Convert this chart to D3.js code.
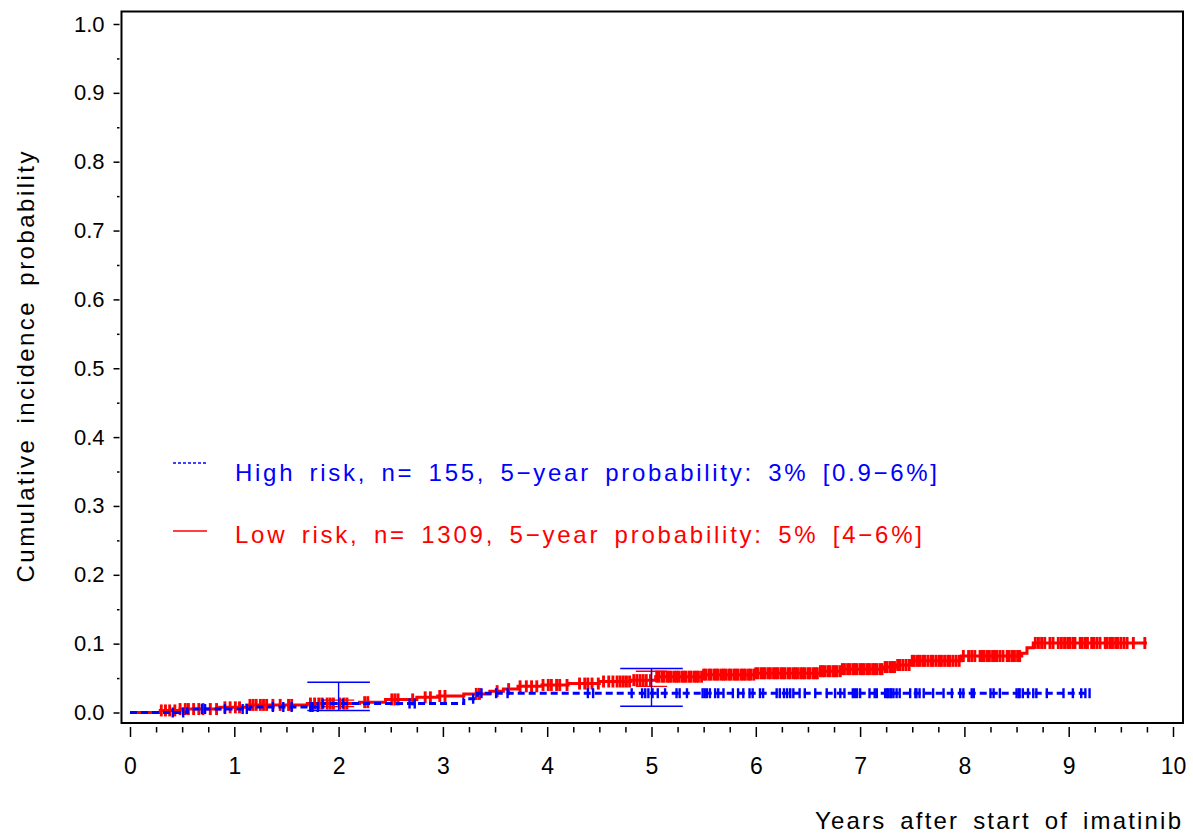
<!DOCTYPE html>
<html>
<head>
<meta charset="utf-8">
<script src="https://cdn.jsdelivr.net/npm/d3@7"></script>
<style>
  body { margin: 0; background: #fff; }
  svg { display: block; font-family: "Liberation Sans", Arial, Helvetica, sans-serif; }
</style>
</head>
<body>
<div id="chart"></div>
<script>
// --- Data ---------------------------------------------------------------
const yearTicks = [0, 1, 2, 3, 4, 5, 6, 7, 8, 9, 10];
const probTicks = [0, 0.1, 0.2, 0.3, 0.4, 0.5, 0.6, 0.7, 0.8, 0.9, 1.0];

// cumulative incidence steps: [years, probability]
const highRiskSteps = [[0, 0], [0.55, 0.005], [1.15, 0.008], [1.85, 0.013], [3.2, 0.020], [3.33, 0.028]];
const highRiskEnd = 9.2;
const lowRiskSteps = [[0, 0], [0.29, 0.003], [0.48, 0.005], [0.86, 0.0075], [1.12, 0.011], [1.7, 0.013],
  [2.2, 0.015], [2.45, 0.019], [2.75, 0.022], [2.95, 0.024], [3.2, 0.027], [3.45, 0.031], [3.58, 0.034],
  [3.72, 0.038], [3.95, 0.040], [4.2, 0.042], [4.5, 0.045], [4.8, 0.047], [5.04, 0.052], [5.5, 0.055],
  [6.0, 0.057], [6.62, 0.060], [6.82, 0.063], [7.22, 0.066], [7.35, 0.069], [7.49, 0.075], [7.97, 0.082],
  [8.55, 0.086], [8.60, 0.094], [8.66, 0.101]];
const lowRiskEnd = 9.75;

// censoring times (years)
const highRiskCensor = [0.41, 0.51, 0.69, 0.72, 0.91, 1.08, 1.12, 1.37, 1.47, 1.55, 1.73, 1.75, 1.80, 1.85,
  2.04, 2.68, 2.73, 3.29, 3.37, 3.51, 3.62, 4.39, 4.44, 4.81, 4.91, 4.94, 4.97, 5.01, 5.06, 5.13, 5.24,
  5.27, 5.34, 5.49, 5.51, 5.53, 5.56, 5.61, 5.64, 5.69, 5.78, 5.83, 5.88, 5.94, 5.97, 6.04, 6.07, 6.20,
  6.23, 6.27, 6.30, 6.33, 6.36, 6.42, 6.47, 6.57, 6.68, 6.76, 6.81, 6.85, 6.93, 6.95, 6.97, 7.00, 7.09,
  7.14, 7.16, 7.24, 7.26, 7.27, 7.29, 7.30, 7.32, 7.35, 7.38, 7.48, 7.53, 7.54, 7.57, 7.61, 7.70, 7.80,
  7.88, 7.96, 7.99, 8.07, 8.09, 8.25, 8.28, 8.34, 8.50, 8.52, 8.53, 8.56, 8.61, 8.66, 8.69, 8.79, 8.95,
  9.04, 9.12, 9.16, 9.20];

const lowRiskCensor = [0.30, 0.34, 0.38, 0.43, 0.48, 0.53, 0.56, 0.61, 0.66, 0.70, 0.77, 0.83, 0.91, 0.96,
  1.01, 1.05, 1.15, 1.18, 1.21, 1.25, 1.28, 1.31, 1.37, 1.44, 1.52, 1.55, 1.73, 1.77, 1.81, 1.84, 1.89,
  1.92, 1.95, 2.01, 2.05, 2.08, 2.25, 2.28, 2.51, 2.54, 2.57, 2.71, 2.83, 2.88, 2.97, 3.02, 3.32, 3.35,
  3.52, 3.63, 3.74, 3.80, 3.85, 3.90, 3.96, 4.01, 4.04, 4.09, 4.12, 4.19, 4.31, 4.36, 4.39, 4.43, 4.49,
  4.54, 4.59, 4.63, 4.67, 4.70, 4.73, 4.76, 4.79, 4.83, 4.86, 4.89, 4.92, 4.95, 4.99,
  5.05, 5.07, 5.10, 5.12, 5.15, 5.17, 5.19, 5.22, 5.24, 5.26, 5.29, 5.31, 5.33, 5.36, 5.38, 5.41, 5.43,
  5.45, 5.48, 5.50, 5.52, 5.55, 5.57, 5.60, 5.62, 5.64, 5.67, 5.69, 5.71, 5.74, 5.76, 5.79, 5.81, 5.83,
  5.86, 5.88, 5.90, 5.93, 5.95, 5.98, 6.00, 6.02, 6.05, 6.07, 6.09, 6.12, 6.14, 6.17, 6.19, 6.21, 6.24,
  6.26, 6.28, 6.31, 6.33, 6.36, 6.38, 6.40, 6.43, 6.45, 6.47, 6.50, 6.52, 6.55, 6.57, 6.59, 6.62, 6.64,
  6.66, 6.69, 6.71, 6.74, 6.76, 6.78, 6.81, 6.83, 6.85, 6.88, 6.90, 6.93, 6.95, 6.97, 7.00, 7.02, 7.04,
  7.07, 7.09, 7.12, 7.14, 7.16, 7.19, 7.21, 7.24, 7.26, 7.29, 7.31, 7.33, 7.36, 7.38, 7.41, 7.44, 7.47,
  7.50, 7.52, 7.55, 7.57, 7.60, 7.62, 7.65, 7.68, 7.70, 7.73, 7.76, 7.78, 7.81, 7.84, 7.86, 7.89, 7.92,
  7.95, 7.99, 8.04, 8.07, 8.10, 8.15, 8.17, 8.19, 8.22, 8.24, 8.27, 8.29, 8.31, 8.34, 8.37, 8.41, 8.43,
  8.46, 8.48, 8.51, 8.53, 8.68, 8.71, 8.74, 8.77, 8.82, 8.85, 8.90, 8.93, 8.96, 8.99, 9.01, 9.04, 9.06,
  9.11, 9.13, 9.16, 9.18, 9.22, 9.24, 9.27, 9.30, 9.35, 9.37, 9.40, 9.42, 9.45, 9.47, 9.50, 9.53, 9.56,
  9.62, 9.73];

// confidence intervals at 2 and 5 years
const highRiskCI = [{ t: 2, lo: 0.003, hi: 0.044 }, { t: 5, lo: 0.009, hi: 0.064 }];
const lowRiskCI = [{ t: 2, lo: 0.0085, hi: 0.018 }, { t: 5, lo: 0.038, hi: 0.060 }];

const legendLabels = [
  'High risk, n= 155, 5\u2212year probability: 3% [0.9\u22126%]',
  'Low risk, n= 1309, 5\u2212year probability: 5% [4\u22126%]',
];
const yTitle = 'Cumulative incidence probability';
const xTitle = 'Years after start of imatinib';

// --- Layout -------------------------------------------------------------
const W = 1193, H = 838;
const BLUE = '#0000ff', RED = '#ff0000';

const svg = d3.select('#chart').append('svg').attr('width', W).attr('height', H);

const x = d3.scaleLinear().domain([0, 10]).range([130, 1173]);
const y = d3.scaleLinear().domain([0, 1]).range([712.5, 24]);

// frame
svg.append('rect')
  .attr('x', 121.5).attr('y', 11.5)
  .attr('width', 1183 - 121.5).attr('height', 723 - 11.5)
  .attr('fill', 'none').attr('stroke', '#000').attr('stroke-width', 2);

// y axis (major + minor)
const yAxis = svg.append('g').attr('transform', 'translate(119.5,0)')
  .call(d3.axisLeft(y).tickValues(probTicks).tickSize(6).tickPadding(9).tickFormat(d3.format('.1f')));
svg.append('g').attr('transform', 'translate(119.5,0)')
  .call(d3.axisLeft(y).tickValues(probTicks.slice(0, -1).map(d => d + 0.05)).tickSize(2.5).tickFormat(''));

// x axis (major + minor)
const xAxis = svg.append('g').attr('transform', 'translate(0,727)')
  .call(d3.axisBottom(x).tickValues(yearTicks).tickSize(10).tickPadding(21).tickFormat(d3.format('d')));
const minorYears = [];
yearTicks.slice(0, -1).forEach(d => minorYears.push(d + 0.25, d + 0.5, d + 0.75));
svg.append('g').attr('transform', 'translate(0,727)')
  .call(d3.axisBottom(x).tickValues(minorYears).tickSize(5.5).tickFormat(''));

svg.selectAll('.domain').remove();
svg.selectAll('.tick line').attr('stroke', '#000').attr('stroke-width', 1.5);
yAxis.selectAll('text').attr('font-size', 22).attr('fill', '#000').attr('font-family', null);
xAxis.selectAll('text').attr('font-size', 23).attr('fill', '#000').attr('font-family', null);

// axis titles (SAS-style wide word gaps)
svg.append('text')
  .attr('transform', 'translate(34,367) rotate(-90)')
  .attr('text-anchor', 'middle')
  .attr('font-size', 24)
  .style('word-spacing', '5px')
  .attr('textLength', 431).attr('lengthAdjust', 'spacing')
  .text(yTitle);

svg.append('text')
  .attr('x', 815).attr('y', 829)
  .attr('font-size', 24)
  .style('word-spacing', '5px')
  .attr('textLength', 366).attr('lengthAdjust', 'spacing')
  .text(xTitle);

// --- Curves -------------------------------------------------------------
const lineGen = d3.line()
  .x(d => x(d[0]))
  .y(d => y(d[1]))
  .curve(d3.curveStepAfter);

const bisect = d3.bisector(d => d[0]).right;
function valueAt(steps, t) {
  return steps[Math.max(0, bisect(steps, t) - 1)][1];
}

function drawGroup(steps, end, censor, ci, color, opts) {
  const g = svg.append('g');
  const pts = steps.concat([[end, steps[steps.length - 1][1]]]);

  // confidence intervals
  ci.forEach(c => {
    const ciG = g.append('g').attr('stroke', color).attr('stroke-width', 1.4).attr('fill', 'none');
    ciG.append('line').attr('x1', x(c.t)).attr('x2', x(c.t)).attr('y1', y(c.lo)).attr('y2', y(c.hi));
    [c.lo, c.hi].forEach(v => {
      ciG.append('line')
        .attr('x1', x(c.t - opts.cap)).attr('x2', x(c.t + opts.cap))
        .attr('y1', y(v)).attr('y2', y(v));
    });
  });

  g.append('path')
    .attr('d', lineGen(pts))
    .attr('fill', 'none')
    .attr('stroke', color)
    .attr('stroke-width', 3)
    .attr('stroke-dasharray', opts.dash);

  g.selectAll('line.censor')
    .data(censor)
    .join('line')
    .attr('class', 'censor')
    .attr('x1', d => x(d)).attr('x2', d => x(d))
    .attr('y1', d => y(valueAt(steps, d)) - opts.tick)
    .attr('y2', d => y(valueAt(steps, d)) + opts.tick)
    .attr('stroke', color)
    .attr('stroke-width', opts.tickWidth);
}

drawGroup(lowRiskSteps, lowRiskEnd, lowRiskCensor, lowRiskCI, RED, { dash: null, tick: 6, cap: 0.15, tickWidth: 2.9 });
drawGroup(highRiskSteps, highRiskEnd, highRiskCensor, highRiskCI, BLUE, { dash: '7,4', tick: 5, cap: 0.3, tickWidth: 2.4 });

// --- Legend -------------------------------------------------------------
const legend = [
  { label: legendLabels[0], color: BLUE, dash: '3,2', ly: 463, ty: 481, len: 702 },
  { label: legendLabels[1], color: RED, dash: null, ly: 531, ty: 543, len: 687 },
];
legend.forEach(l => {
  svg.append('line')
    .attr('x1', 173).attr('x2', 207).attr('y1', l.ly).attr('y2', l.ly)
    .attr('stroke', l.color).attr('stroke-width', 1.5)
    .attr('stroke-dasharray', l.dash);
  svg.append('text')
    .attr('x', 235).attr('y', l.ty)
    .attr('font-size', 24)
    .attr('fill', l.color)
    .style('word-spacing', '5px')
    .attr('textLength', l.len).attr('lengthAdjust', 'spacing')
    .text(l.label);
});
</script>
</body>
</html>
